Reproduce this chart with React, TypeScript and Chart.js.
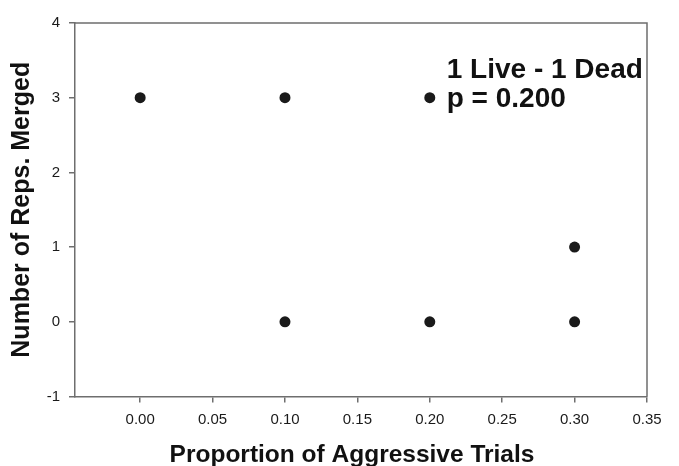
import React, { useEffect, useRef } from "react";
import { Chart, registerables } from "chart.js";

Chart.register(...registerables);

const xValues = [0.0, 0.1, 0.2, 0.1, 0.2, 0.3, 0.3];
const yValues = [3, 3, 3, 0, 0, 0, 1];
const xTicks = [0.0, 0.05, 0.1, 0.15, 0.2, 0.25, 0.3, 0.35];
const yTicks = [-1, 0, 1, 2, 3, 4];
const annotationLines = ["1 Live - 1 Dead", "p = 0.200"];
const xTitle = "Proportion of Aggressive Trials";
const yTitle = "Number of Reps. Merged";

const FONT = "'Liberation Sans', Arial, Helvetica, sans-serif";
const AXIS_COLOR = "#6e6e6e";

export default function App() {
  const canvasRef = useRef<HTMLCanvasElement | null>(null);

  useEffect(() => {
    document.body.style.margin = "0";
    const canvas = canvasRef.current;
    if (!canvas) return;

    const framePlugin = {
      id: "frame",
      afterDatasetsDraw(chart: any) {
        const { ctx, chartArea } = chart;
        ctx.save();
        ctx.strokeStyle = AXIS_COLOR;
        ctx.lineWidth = 1.5;
        ctx.beginPath();
        ctx.moveTo(chartArea.left, chartArea.top);
        ctx.lineTo(chartArea.right, chartArea.top);
        ctx.lineTo(chartArea.right, chartArea.bottom);
        ctx.stroke();
        // annotation text
        const xs = chart.scales.x;
        const ys = chart.scales.y;
        const x0 = xs.getPixelForValue(0.2117);
        const y0 = ys.getPixelForValue(3.258);
        ctx.fillStyle = "#111111";
        ctx.font = `bold 28px ${FONT}`;
        ctx.textAlign = "left";
        ctx.textBaseline = "alphabetic";
        annotationLines.forEach((line, i) => {
          ctx.fillText(line, x0, y0 + i * 29);
        });
        // x axis title
        ctx.font = `bold 24.5px ${FONT}`;
        ctx.textAlign = "center";
        ctx.fillText(xTitle, (chartArea.left + chartArea.right) / 2 - 9, 462);
        ctx.restore();
      },
    };

    const chart = new Chart(canvas, {
      type: "scatter",
      data: {
        datasets: [
          {
            data: xValues.map((x, i) => ({ x, y: yValues[i] })),
            backgroundColor: "#1a1a1a",
            borderWidth: 0,
            pointRadius: 5.5,
          },
        ],
      },
      options: {
        animation: false,
        responsive: false,
        layout: { padding: { left: 0, top: 23, right: 32, bottom: 0 } },
        plugins: { legend: { display: false }, tooltip: { enabled: false } },
        scales: {
          x: {
            type: "linear",
            min: -0.045,
            max: 0.35,
            afterBuildTicks(scale: any) {
              scale.ticks = xTicks.map((v) => ({ value: v }));
            },
            afterFit(scale: any) {
              scale.height = 69.5;
            },
            border: { display: true, color: AXIS_COLOR, width: 1.5 },
            grid: {
              display: true,
              drawOnChartArea: false,
              drawTicks: true,
              tickLength: 6,
              color: AXIS_COLOR,
              lineWidth: 1.5,
            },
            ticks: {
              color: "#1a1a1a",
              font: { family: FONT, size: 15 },
              padding: 8,
              maxRotation: 0,
              autoSkip: false,
              callback: (v: any) => Number(v).toFixed(2),
            },
            title: { display: false, text: xTitle },
          },
          y: {
            type: "linear",
            min: -1,
            max: 4,
            afterBuildTicks(scale: any) {
              scale.ticks = yTicks.map((v) => ({ value: v }));
            },
            afterFit(scale: any) {
              scale.width = 75;
            },
            border: { display: true, color: AXIS_COLOR, width: 1.5 },
            grid: {
              display: true,
              drawOnChartArea: false,
              drawTicks: true,
              tickLength: 6,
              color: AXIS_COLOR,
              lineWidth: 1.5,
            },
            ticks: {
              color: "#1a1a1a",
              font: { family: FONT, size: 15 },
              padding: 9,
              autoSkip: false,
              callback: (v: any) => String(v),
            },
            title: {
              display: true,
              text: yTitle,
              color: "#111111",
              font: { family: FONT, size: 25, weight: "bold", lineHeight: 1 },
              padding: { top: 10, bottom: 0 },
            },
          },
        },
      },
      plugins: [framePlugin],
    });

    return () => {
      chart.destroy();
    };
  }, []);

  return (
    <div style={{ width: 679, height: 466, background: "#ffffff" }}>
      <canvas ref={canvasRef} width={679} height={466} style={{ display: "block" }} />
    </div>
  );
}
